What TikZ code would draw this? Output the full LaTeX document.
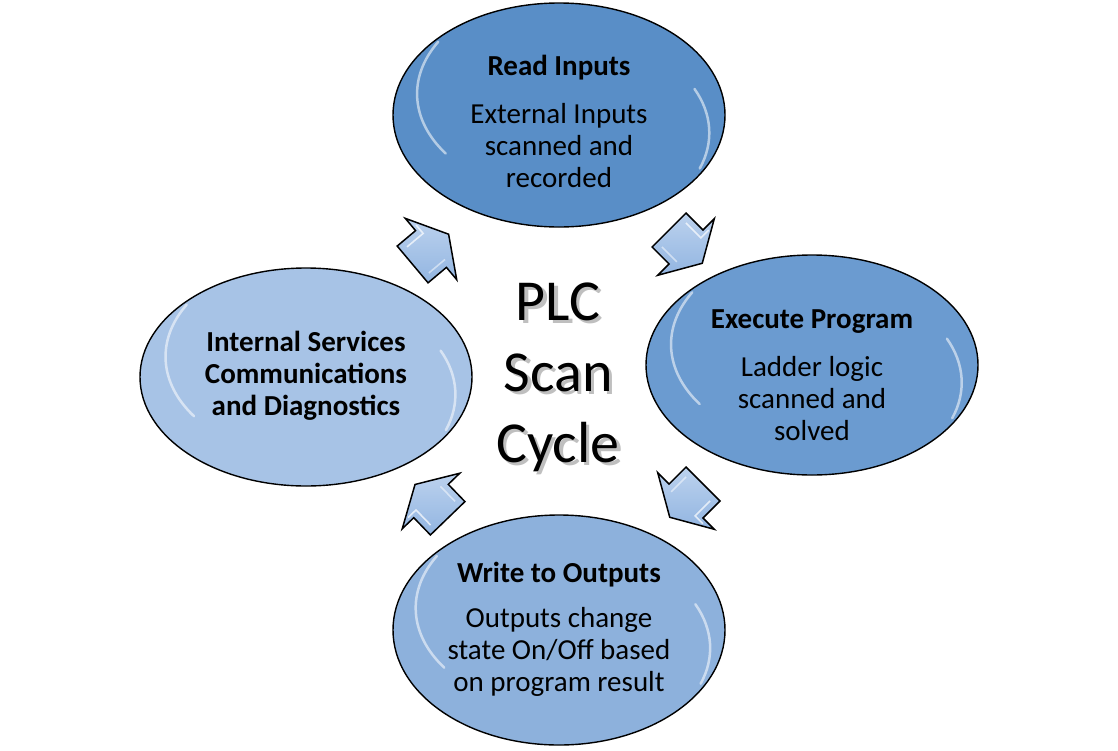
\documentclass[tikz,border=0pt]{standalone}
\usepackage{fontspec}
\setmainfont{Carlito}
\usetikzlibrary{shapes.geometric}
\definecolor{readblue}{HTML}{598EC7}
\definecolor{execblue}{HTML}{6B9BD0}
\definecolor{writeblue}{HTML}{8DB1DC}
\definecolor{intblue}{HTML}{A7C3E6}
\definecolor{arrowblue}{HTML}{92B5E1}
\definecolor{arrowlight}{HTML}{BCD2EE}
\tikzset{
  cyc/.style={ellipse, draw=black, line width=1.4pt, minimum width=332pt, minimum height=224pt, inner sep=0pt},
  rim/.style={white, opacity=.55, line width=2.5pt, line cap=round},
  ttl/.style={font=\fontsize{29}{32}\selectfont\bfseries, inner sep=0pt},
  body/.style={font=\fontsize{29}{32}\selectfont, align=center, inner sep=0pt},
  intxt/.style={font=\fontsize{29}{32}\selectfont\bfseries, align=center, inner sep=0pt},
  bigtxt/.style={font=\fontsize{58}{71}\selectfont, align=center, inner sep=0pt},
  arrowfill/.style={draw=black, line width=1.5pt, line join=miter, top color=arrowlight, bottom color=arrowblue},
  blockarrow/.pic={
    \path[arrowfill] (-24pt,-24pt) -- (0pt,-24pt) -- (0pt,-40pt) -- (23pt,0pt) -- (0pt,40pt) -- (0pt,24pt) -- (-24pt,24pt) -- cycle;
    \draw[white, opacity=.7, line width=1.6pt] (-17pt,17pt) -- (4pt,17pt) -- (4pt,28pt);
    \draw[white, opacity=.5, line width=1.6pt] (-17pt,-17pt) -- (4pt,-17pt);
  }
}
\begin{document}
\begin{tikzpicture}[x=1pt,y=-1pt]
\useasboundingbox (0,0) rectangle (1118,750);
\fill[white] (0,0) rectangle (1118,750);

% ellipses
\node[cyc, fill=readblue] (read) at (559,115) {};
\node[cyc, fill=execblue, minimum height=220pt] (exec) at (812,365) {};
\node[cyc, fill=writeblue, minimum height=230pt] (write) at (559,630) {};
\node[cyc, fill=intblue, minimum height=218pt] (intl) at (306,377) {};

% bevel highlights
\foreach \e in {read,exec,write,intl}{
  \draw[rim] ([xshift=6pt]\e.150) arc[start angle=150, end angle=215, x radius=158pt, y radius=104pt];
  \draw[rim] ([xshift=-6pt]\e.-20) arc[start angle=-20, end angle=25, x radius=158pt, y radius=104pt];
}

% texts
\node[ttl] (readt) at (559,68) {Read Inputs};
\node[body] (readb) at (559,146) {External Inputs\\scanned and\\recorded};
\node[ttl] (exect) at (812,322) {Execute Program};
\node[body] (execb) at (812,399) {Ladder logic\\scanned and\\solved};
\node[ttl] (writet) at (559,575) {Write to Outputs};
\node[body] (writeb) at (559,652) {Outputs change\\state On/Off based\\on program result};
\node[intxt] (intlt) at (306,376) {Internal Services\\Communications\\and Diagnostics};

% center title with shadow
\node[bigtxt, text=gray!50] (plcs) at (561.5,380.5) {PLC\\Scan\\Cycle};
\node[bigtxt, text=black] (plc) at (558,377) {PLC\\Scan\\Cycle};

% block arrows
\coordinate (a1) at (686,247);
\coordinate (a2) at (686,501);
\coordinate (a3) at (431,501);
\coordinate (a4) at (431,249);
\pic[rotate=-45] at (a1) {blockarrow};
\pic[rotate=-135] at (a2) {blockarrow};
\pic[rotate=134] at (a3) {blockarrow};
\pic[rotate=40] at (a4) {blockarrow};
\end{tikzpicture}
\end{document}
